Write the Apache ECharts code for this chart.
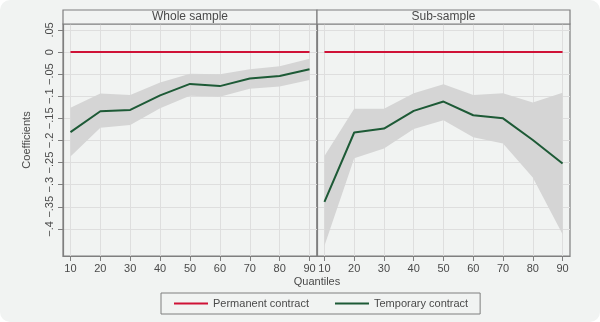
<!DOCTYPE html>
<html>
<head>
<meta charset="utf-8">
<script src="https://cdn.jsdelivr.net/npm/echarts@6/dist/echarts.min.js"></script>
<style>
html,body{margin:0;padding:0;background:#ffffff;}
#c{width:600px;height:322px;}
</style>
</head>
<body>
<div id="c"></div>
<script>
var quantiles = [10, 20, 30, 40, 50, 60, 70, 80, 90];
var panelTitles = ['Whole sample', 'Sub-sample'];
var seriesNames = ['Permanent contract', 'Temporary contract'];
var permanent = [0, 0, 0, 0, 0, 0, 0, 0, 0];
var wholeTemp = [-0.181, -0.134, -0.131, -0.098, -0.072, -0.077, -0.060, -0.054, -0.039];
var wholeLow  = [-0.236, -0.171, -0.165, -0.127, -0.099, -0.101, -0.083, -0.078, -0.063];
var wholeUp   = [-0.126, -0.094, -0.097, -0.069, -0.049, -0.050, -0.039, -0.032, -0.015];
var subTemp = [-0.339, -0.182, -0.173, -0.133, -0.112, -0.143, -0.150, -0.199, -0.252];
var subLow  = [-0.438, -0.240, -0.218, -0.174, -0.154, -0.193, -0.207, -0.284, -0.412];
var subUp   = [-0.235, -0.128, -0.128, -0.093, -0.073, -0.097, -0.093, -0.114, -0.092];
var yTickValues = [0.05, 0, -0.05, -0.1, -0.15, -0.2, -0.25, -0.3, -0.35, -0.4];
var yTickLabels = ['.05', '0', '\u2212.05', '\u2212.1', '\u2212.15', '\u2212.2', '\u2212.25', '\u2212.3', '\u2212.35', '\u2212.4'];
var xTickLabels = ['10', '20', '30', '40', '50', '60', '70', '80', '90'];

var BG = '#f1f3f2', FRAME = '#7f7f7f', GRIDC = '#dedede', BAND = '#d5d5d5';
var RED = '#cf1237', GREEN = '#1d5a36', TXT = '#4a4a4a';
var FONT = 'Liberation Sans';

function pairs(ys) { return quantiles.map(function (q, i) { return [q, ys[i]]; }); }

var grids = [
  {left: 63, right: 283, top: 24, bottom: 66, show: true, borderColor: FRAME, borderWidth: 1.2, backgroundColor: BG},
  {left: 317, right: 30, top: 24, bottom: 66, show: true, borderColor: FRAME, borderWidth: 1.2, backgroundColor: BG}
];

function xAxisFor(g) {
  return {
    type: 'value', gridIndex: g, min: 7.5, max: 92.5,
    axisLine: {show: true, onZero: false, lineStyle: {color: FRAME, width: 1.2}},
    axisTick: {show: true, length: 5, customValues: quantiles, lineStyle: {color: FRAME}},
    axisLabel: {customValues: quantiles, color: TXT, fontFamily: FONT, fontSize: 11, margin: 7,
      formatter: function (v) { return xTickLabels[quantiles.indexOf(v)]; }},
    splitLine: {show: true, lineStyle: {color: GRIDC, width: 1}}
  };
}
function yAxisFor(g) {
  return {
    type: 'value', gridIndex: g, min: -0.4614, max: 0.0635,
    name: g === 0 ? 'Coefficients' : '', nameLocation: 'middle', nameGap: 31, nameRotate: 90,
    nameTextStyle: {color: TXT, fontFamily: FONT, fontSize: 11},
    axisLine: {show: true, lineStyle: {color: FRAME, width: 1.2}},
    axisTick: {show: g === 0, length: 5, customValues: yTickValues, lineStyle: {color: FRAME}},
    axisLabel: {show: g === 0, customValues: yTickValues, rotate: 90, color: TXT, fontFamily: FONT, fontSize: 11, margin: 8,
      formatter: function (v) {
        for (var i = 0; i < yTickValues.length; i++) if (Math.abs(yTickValues[i] - v) < 1e-9) return yTickLabels[i];
        return '';
      }},
    splitLine: {show: true, lineStyle: {color: GRIDC, width: 1}}
  };
}

function bandSeries(g, low, up) {
  return {
    type: 'custom', xAxisIndex: g, yAxisIndex: g, silent: true, z: 1,
    data: quantiles.map(function (q, i) { return [q, low[i], up[i]]; }),
    encode: {x: 0, y: [1, 2]},
    renderItem: function (params, api) {
      if (params.dataIndex !== 0) return null;
      var pts = [], i;
      for (i = 0; i < quantiles.length; i++) pts.push(api.coord([quantiles[i], up[i]]));
      for (i = quantiles.length - 1; i >= 0; i--) pts.push(api.coord([quantiles[i], low[i]]));
      return {type: 'polygon', shape: {points: pts}, style: {fill: BAND}};
    }
  };
}

function panelSeries(g, low, up, temp) {
  return [
    bandSeries(g, low, up),
    {name: seriesNames[0], type: 'line', xAxisIndex: g, yAxisIndex: g, data: pairs(permanent),
      symbol: 'none', lineStyle: {color: RED, width: 2}, itemStyle: {color: RED}, z: 3},
    {name: seriesNames[1], type: 'line', xAxisIndex: g, yAxisIndex: g, data: pairs(temp),
      symbol: 'none', lineStyle: {color: GREEN, width: 2}, itemStyle: {color: GREEN}, z: 3}
  ];
}

var option = {
  animation: false,
  backgroundColor: 'transparent',
  graphic: [
    {type: 'rect', z: -10, shape: {x: 0, y: 0, width: 600, height: 322, r: 10}, style: {fill: BG}},
    {type: 'rect', z: 5, shape: {x: 63, y: 10, width: 254, height: 14}, style: {fill: BG, stroke: FRAME, lineWidth: 1.2}},
    {type: 'rect', z: 5, shape: {x: 317, y: 10, width: 253, height: 14}, style: {fill: BG, stroke: FRAME, lineWidth: 1.2}},
    {type: 'text', z: 6, x: 190, y: 17, style: {text: panelTitles[0], fill: TXT, font: '12px "Liberation Sans"', align: 'center', verticalAlign: 'middle'}},
    {type: 'text', z: 6, x: 443.5, y: 17, style: {text: panelTitles[1], fill: TXT, font: '12px "Liberation Sans"', align: 'center', verticalAlign: 'middle'}},
    {type: 'text', z: 6, x: 317, y: 282, style: {text: 'Quantiles', fill: TXT, font: '11px "Liberation Sans"', align: 'center', verticalAlign: 'middle'}}
  ],
  legend: {
    data: seriesNames, left: 161, top: 293, orient: 'horizontal',
    icon: 'rect', itemWidth: 34, itemHeight: 2, itemGap: 26,
    padding: [5, 12, 5, 13], borderColor: FRAME, borderWidth: 1, backgroundColor: BG,
    textStyle: {color: TXT, fontFamily: FONT, fontSize: 11}
  },
  grid: grids,
  xAxis: [xAxisFor(0), xAxisFor(1)],
  yAxis: [yAxisFor(0), yAxisFor(1)],
  series: panelSeries(0, wholeLow, wholeUp, wholeTemp).concat(panelSeries(1, subLow, subUp, subTemp))
};

var chart = echarts.init(document.getElementById('c'), null, {renderer: 'canvas'});
chart.setOption(option);
</script>
</body>
</html>
